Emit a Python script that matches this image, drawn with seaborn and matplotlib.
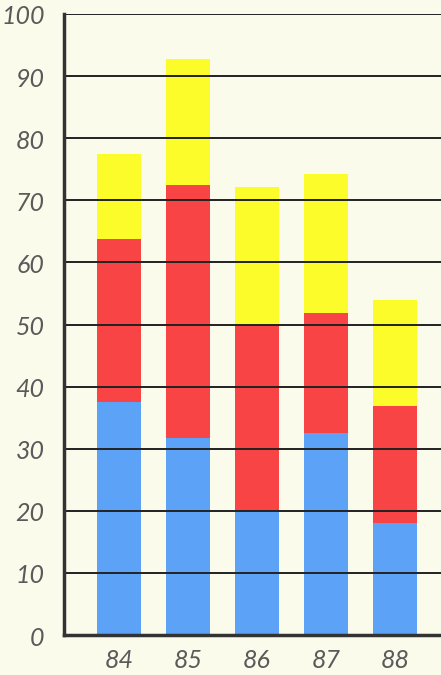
import matplotlib
matplotlib.use("Agg")
import matplotlib.pyplot as plt
import matplotlib.transforms as mtransforms
import seaborn as sns
import pandas as pd
import numpy as np

years = ["84", "85", "86", "87", "88"]
blue = [37.6, 31.7, 20.1, 32.5, 18.1]
red = [26.1, 40.8, 29.8, 19.3, 18.7]
yellow = [13.8, 20.3, 22.3, 22.5, 17.1]
yticks = [0, 10, 20, 30, 40, 50, 60, 70, 80, 90, 100]

sns.set_theme(style="white")
plt.rcParams['font.family'] = ['Lato', 'DejaVu Sans']

bg = "#fbfbec"
fig = plt.figure(figsize=(4.41, 6.75), dpi=100, facecolor=bg)
ax = fig.add_axes([64/441, 1-635/675, 1-64/441, (635-14)/675])
ax.set_facecolor(bg)

b = np.array(blue); r = np.array(red); y = np.array(yellow)
df = pd.DataFrame({"year": years, "blue": b, "red": b + r, "yellow": b + r + y})

for col, color in [("yellow", "#fcfc2a"), ("red", "#f84444"), ("blue", "#5ca2f6")]:
    sns.barplot(data=df, x="year", y=col, color=color, width=0.64,
                saturation=1, ax=ax, zorder=2, edgecolor="none")

ax.set_xlim(-0.80, 4.67)
ax.set_ylim(0, 100)
ax.set_yticks(yticks)
ax.set_yticklabels([str(t) for t in yticks])
for t in yticks[1:]:
    ax.axhline(t, color="#222222", lw=1.4, zorder=3)
ax.set_xlabel(""); ax.set_ylabel("")
for s in ["top", "right"]:
    ax.spines[s].set_visible(False)
ax.spines["left"].set_color("#333333"); ax.spines["left"].set_linewidth(2.5)
ax.spines["bottom"].set_color("#333333"); ax.spines["bottom"].set_linewidth(2.5)
ax.spines["left"].set_zorder(4); ax.spines["bottom"].set_zorder(4)
ax.tick_params(axis="both", length=0, labelcolor="#5a5a5a", labelsize=18)
ax.tick_params(axis="y", pad=14)
ax.tick_params(axis="x", pad=10)
off = mtransforms.ScaledTranslation(0, -3/100, fig.dpi_scale_trans)
for lab in ax.get_xticklabels() + ax.get_yticklabels():
    lab.set_fontstyle("italic"); lab.set_fontweight("normal")
for lab in ax.get_yticklabels():
    lab.set_verticalalignment("center")
    lab.set_transform(lab.get_transform() + off)
fig.savefig("out.png", dpi=100, facecolor=bg)
